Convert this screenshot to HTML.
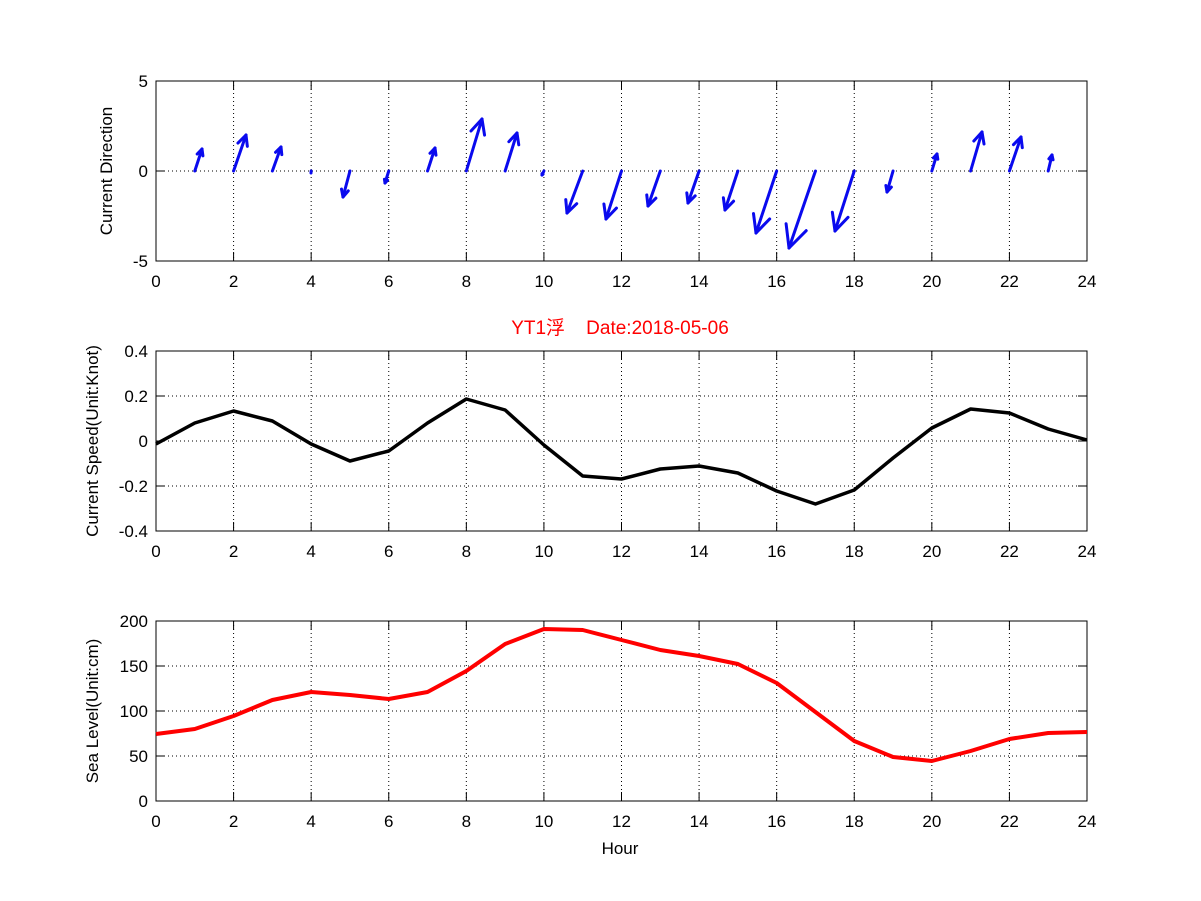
<!DOCTYPE html>
<html><head><meta charset="utf-8"><style>
html,body{margin:0;padding:0;background:#fff}
svg{display:block}
text{font-family:"Liberation Sans","Noto Sans CJK SC",sans-serif;font-size:17px;fill:#000}
</style></head><body>
<svg id="s" width="1201" height="901" xmlns="http://www.w3.org/2000/svg"></svg>
<script>
const s=document.getElementById('s');
let h='';
const L=156,R=1087,X=hr=>L+hr*(R-L)/24;
function axes(top,bot,yt,yfmt,ylab,ylx){
  for(let i=0;i<=24;i+=2){const x=X(i);
    if(i>0&&i<24)h+=`<line x1="${x}" y1="${top}" x2="${x}" y2="${bot}" stroke="#000" stroke-width="1" stroke-dasharray="1,3"/>`;
    h+=`<line x1="${x}" y1="${bot}" x2="${x}" y2="${bot-9}" stroke="#000"/><line x1="${x}" y1="${top}" x2="${x}" y2="${top+9}" stroke="#000"/>`;
    h+=`<text x="${x}" y="${bot+26}" text-anchor="middle">${i}</text>`;}
  yt.forEach(([v,y],k)=>{
    if(k>0&&k<yt.length-1)h+=`<line x1="${L}" y1="${y}" x2="${R}" y2="${y}" stroke="#000" stroke-width="1" stroke-dasharray="1,3"/>`;
    h+=`<line x1="${L}" y1="${y}" x2="${L+9}" y2="${y}" stroke="#000"/><line x1="${R}" y1="${y}" x2="${R-9}" y2="${y}" stroke="#000"/>`;
    h+=`<text x="148" y="${y+6}" text-anchor="end">${v}</text>`;});
  h+=`<rect x="${L}" y="${top}" width="${R-L}" height="${bot-top}" fill="none" stroke="#000"/>`;
  const cy=(top+bot)/2;
  h+=`<text transform="translate(${ylx} ${cy}) rotate(-90)" text-anchor="middle">${ylab}</text>`;
}
axes(81,261,[[5,81],[0,171],[-5,261]],0,'Current Direction',112);
axes(351,531,[['0.4',351],['0.2',396],['0',441],['-0.2',486],['-0.4',531]],0,'Current Speed(Unit:Knot)',98);
axes(621,801,[['200',621],['150',666],['100',711],['50',756],['0',801]],0,'Sea Level(Unit:cm)',98);
const tips=[[202,149],[246,135],[281,147],[311,173],[343,197],[385,183],[435,148],[482,119],[517,133],[542,175],[567,213],[606,219],[648,206],[688,203],[725,210],[756,233],[789,248],[835,231],[887,192],[937,154],[982,132],[1021,137],[1052,155]];
tips.forEach(([tx,ty],i)=>{const x0=X(i+1),y0=171;const dx=tx-x0,dy=ty-y0;const len=Math.hypot(dx,dy);
  h+=`<line x1="${x0}" y1="${y0}" x2="${tx}" y2="${ty}" stroke="#0a0aee" stroke-width="3" stroke-linecap="round"/>`;
  if(len>4){const a=Math.atan2(dy,dx),hl=len*0.3;
    for(const d of [0.45,-0.45]){h+=`<line x1="${tx}" y1="${ty}" x2="${tx-hl*Math.cos(a+d)}" y2="${ty-hl*Math.sin(a+d)}" stroke="#0a0aee" stroke-width="3" stroke-linecap="round"/>`;}}
});
const sp=[444,423,411,421,444,461,451,423,399,410,445,476,479,469,466,473,491,504,490,458,428,409,413,429,440];
h+=`<polyline fill="none" stroke="#000" stroke-width="3.5" stroke-linejoin="round" points="${sp.map((y,i)=>X(i)+','+y).join(' ')}"/>`;
const sl=[734,729,716,700,692,695,699,692,671,644,629,630,640,650,656,664,683,712,741,757,761,751,739,733,732];
h+=`<polyline fill="none" stroke="#f00" stroke-width="4" stroke-linejoin="round" points="${sl.map((y,i)=>X(i)+','+y).join(' ')}"/>`;
h+=`<text x="620" y="334" text-anchor="middle" style="fill:#f00;font-size:19px;white-space:pre">YT1浮    Date:2018-05-06</text>`;
h+=`<text x="620" y="854" text-anchor="middle">Hour</text>`;
s.innerHTML=h;
</script>
</body></html>
